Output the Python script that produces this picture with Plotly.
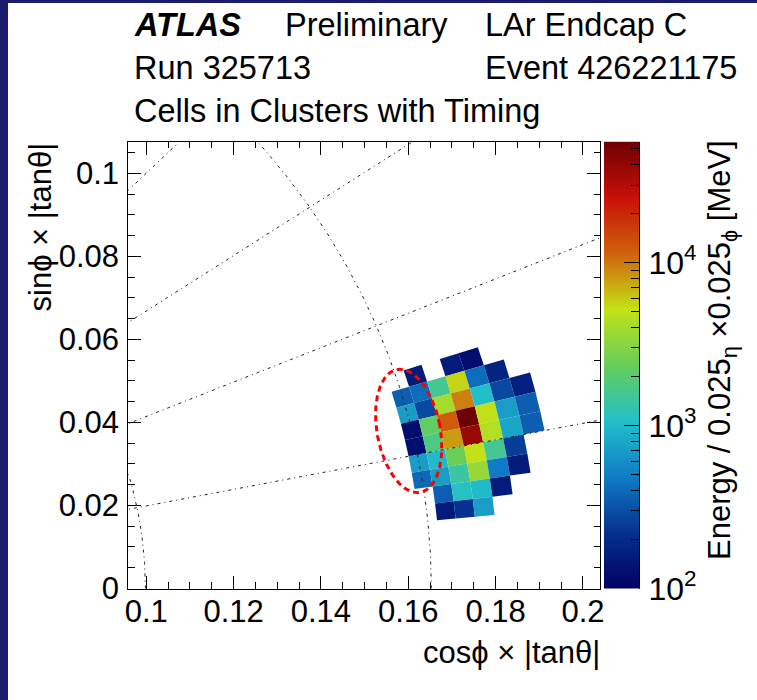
import numpy as np
import plotly.graph_objects as go
from plotly.colors import sample_colorscale

# ---------------- data ----------------
# cells: eta centre, phi bin (phi centre = (bin+0.5)*2pi/256), energy [MeV]
cell_eta = [2.475, 2.425, 2.4,
            2.5, 2.475, 2.45, 2.425, 2.4, 2.375,
            2.5, 2.475, 2.45, 2.425, 2.4, 2.375, 2.35,
            2.5, 2.475, 2.45, 2.425, 2.4, 2.375, 2.35,
            2.5, 2.475, 2.45, 2.425, 2.4, 2.375, 2.35,
            2.5, 2.475, 2.45, 2.425, 2.4, 2.375,
            2.5, 2.475, 2.45, 2.425, 2.4, 2.375,
            2.475, 2.45, 2.425, 2.4,
            2.475, 2.45, 2.425]
cell_phi_bin = [12, 12, 12,
                11, 11, 11, 11, 11, 11,
                10, 10, 10, 10, 10, 10, 10,
                9, 9, 9, 9, 9, 9, 9,
                8, 8, 8, 8, 8, 8, 8,
                7, 7, 7, 7, 7, 7,
                6, 6, 6, 6, 6, 6,
                5, 5, 5, 5,
                4, 4, 4]
cell_energy = [158, 158, 126,
               355, 417, 1585, 5623, 417, 178,
               708, 282, 3981, 9550, 1047, 282, 166,
               126, 2239, 12023, 55300, 5012, 708, 355,
               126, 1778, 7943, 38000, 4467, 794, 355,
               708, 1000, 2399, 5248, 1585, 251,
               398, 708, 1413, 3548, 479, 158,
               355, 1122, 1000, 158,
               158, 224, 708]

grid_phi_deg = [11.25, 22.5, 33.75, 45.0]
grid_eta = [2.5, 3.0]

# highlighted region (red dashed ellipse): centre, semi-axes, tilt
ell_cx, ell_cy = 0.16010, 0.03795
ell_rx, ell_ry = 0.00723, 0.01506
ell_tilt_deg = 10.85

x_range = [0.0959, 0.2039]
y_range = [0.0, 0.1076]
z_range = [2.0, 4.743]  # log10(E/MeV)

x_tickvals = [0.1, 0.12, 0.14, 0.16, 0.18, 0.2]
x_ticktext = ["0.1", "0.12", "0.14", "0.16", "0.18", "0.2"]
y_tickvals = [0.0, 0.02, 0.04, 0.06, 0.08, 0.1]
y_ticktext = ["0", "0.02", "0.04", "0.06", "0.08", "0.1"]
z_tickvals = [2, 3, 4]
z_ticktext = ["10<sup>2</sup>", "10<sup>3</sup>", "10<sup>4</sup>"]

# ROOT kRainBow palette
rainbow = [[0.0, "rgb(0,0,99)"], [0.125, "rgb(5,48,142)"], [0.25, "rgb(15,124,198)"],
           [0.375, "rgb(35,192,201)"], [0.5, "rgb(102,206,90)"], [0.625, "rgb(196,226,22)"],
           [0.75, "rgb(208,97,13)"], [0.875, "rgb(199,16,8)"], [1.0, "rgb(110,0,2)"]]

# ---------------- figure ----------------
W, H = 757, 700
FONT = "Liberation Sans, Arial, sans-serif"
DPHI = 2 * np.pi / 256
DETA = 0.025
KX, KY = 4385.0, 4150.0  # px per data unit (for drawing the ellipse round)


def px_x(p):
    return p / W


def px_y(p):
    return 1 - p / H


def to_xy(eta, phi):
    r = 1.0 / np.sinh(eta)
    return r * np.cos(phi), r * np.sin(phi)


fig = go.Figure()

# cells
for eta, kb, e in zip(cell_eta, cell_phi_bin, cell_energy):
    phi = (kb + 0.5) * DPHI
    ce = [eta - DETA / 2, eta + DETA / 2, eta + DETA / 2, eta - DETA / 2, eta - DETA / 2]
    cp = [phi - DPHI / 2, phi - DPHI / 2, phi + DPHI / 2, phi + DPHI / 2, phi - DPHI / 2]
    xs, ys = to_xy(np.array(ce), np.array(cp))
    t = (np.log10(e) - z_range[0]) / (z_range[1] - z_range[0])
    col = sample_colorscale(rainbow, [min(max(t, 0), 1)])[0]
    fig.add_trace(go.Scatter(x=xs, y=ys, mode="lines", fill="toself", fillcolor=col,
                             line=dict(width=0, color=col), hoverinfo="skip", showlegend=False))

DASHDOT = "3px,4px,1px,4px"
for d in grid_phi_deg:
    a = np.radians(d)
    rr = np.array([0.0, 0.4])
    fig.add_trace(go.Scatter(x=rr * np.cos(a), y=rr * np.sin(a), mode="lines",
                             line=dict(color="#222222", width=1, dash=DASHDOT),
                             hoverinfo="skip", showlegend=False))
for eta in grid_eta:
    ph = np.linspace(0, np.pi / 2, 400)
    r = 1 / np.sinh(eta)
    fig.add_trace(go.Scatter(x=r * np.cos(ph), y=r * np.sin(ph), mode="lines",
                             line=dict(color="#222222", width=1, dash=DASHDOT),
                             hoverinfo="skip", showlegend=False))

# red ellipse (rotation done in screen-like units)
tt = np.linspace(0, 2 * np.pi, 300)
al = np.radians(ell_tilt_deg)
ux, uy = ell_rx * KX * np.cos(tt), ell_ry * KY * np.sin(tt)
ex = ell_cx + (ux * np.cos(al) - uy * np.sin(al)) / KX
ey = ell_cy + (ux * np.sin(al) + uy * np.cos(al)) / KY
fig.add_trace(go.Scatter(x=ex, y=ey, mode="lines",
                         line=dict(color="#ff0000", width=3, dash="6px,4px"),
                         hoverinfo="skip", showlegend=False))

# colour bar as its own axes
zz = np.linspace(z_range[0], z_range[1], 400)
fig.add_trace(go.Heatmap(z=[[v] for v in zz], x=[0.5], y=zz, colorscale=rainbow,
                         zmin=z_range[0], zmax=z_range[1], showscale=False,
                         xaxis="x2", yaxis="y2", hoverinfo="skip"))

axis_common = dict(showgrid=False, zeroline=False, showline=True, linecolor="black",
                   linewidth=1, mirror="ticks", ticks="inside", ticklen=13,
                   tickcolor="black", tickwidth=1, automargin=False,
                   tickfont=dict(family=FONT, size=31, color="black"))

x0p, x1p, y0p, y1p = 128.3, 600.0, 141.7, 588.5
fig.update_layout(
    width=W, height=H, margin=dict(l=0, r=0, t=0, b=0, autoexpand=False),
    paper_bgcolor="white", plot_bgcolor="white", showlegend=False,
    xaxis=dict(domain=[px_x(x0p), px_x(x1p)], range=x_range, tickmode="array",
               tickvals=x_tickvals, ticktext=x_ticktext, ticklabelstandoff=-5,
               minor=dict(dtick=0.005, tick0=0.0, ticks="inside", ticklen=6.5,
                          tickcolor="black", tickwidth=1, showgrid=False),
               **axis_common),
    yaxis=dict(domain=[px_y(y1p), px_y(y0p)], range=y_range, tickmode="array",
               tickvals=y_tickvals, ticktext=y_ticktext, ticklabelstandoff=2,
               minor=dict(dtick=0.005, tick0=0.0, ticks="inside", ticklen=6.5,
                          tickcolor="black", tickwidth=1, showgrid=False),
               **axis_common),
    xaxis2=dict(domain=[px_x(604), px_x(639)], range=[0, 1], visible=False, anchor="y2",
                automargin=False),
    yaxis2=dict(domain=[px_y(y1p), px_y(y0p)], range=z_range, anchor="x2", side="right",
                automargin=False,
                showgrid=False, zeroline=False, showline=True, linecolor="black", linewidth=1,
                ticks="inside", ticklen=15, tickcolor="black", tickvals=z_tickvals,
                ticktext=z_ticktext, ticklabelstandoff=2,
                tickfont=dict(family=FONT, size=32, color="black"),
                minor=dict(tickmode="array",
                           tickvals=[np.log10(k * 10 ** n) for n in (2, 3, 4) for k in range(2, 10)
                                     if np.log10(k * 10 ** n) < z_range[1]],
                           ticks="inside", ticklen=8, tickcolor="black", showgrid=False)),
)

ann = []


def text(s, x, y, xa="left", ya="middle", size=32.5, angle=0):
    ann.append(dict(text=s, x=px_x(x), y=px_y(y), xref="paper", yref="paper",
                    xanchor=xa, yanchor=ya, showarrow=False, textangle=angle,
                    font=dict(family=FONT, size=size, color="black")))


text("<b><i>ATLAS</i></b>", 132, 25)
text("Preliminary", 283, 25)
text("LAr Endcap C", 483, 25)
text("Run 325713", 132, 68)
text("Event 426221175", 483, 68)
text("Cells in Clusters with Timing", 132, 111)
text("cosϕ × |tanθ|", 602, 652, xa="right", size=31)
text("sinϕ × |tanθ|", 40, 141, xa="center", ya="top", angle=-90, size=31)
text("Energy / 0.025<sub>η</sub> ×0.025<sub>ϕ</sub> [MeV]", 722, 138, xa="center", ya="top",
     size=31, angle=-90)
fig.update_layout(annotations=ann)

# slide background border (left and top)
fig.add_shape(type="rect", xref="paper", yref="paper", x0=0, x1=px_x(8), y0=0, y1=1,
              fillcolor="#1c1c6c", line=dict(width=0), layer="above")
fig.add_shape(type="rect", xref="paper", yref="paper", x0=0, x1=1, y0=px_y(3), y1=1,
              fillcolor="#1c1c6c", line=dict(width=0), layer="above")

fig.write_html("out.html")
